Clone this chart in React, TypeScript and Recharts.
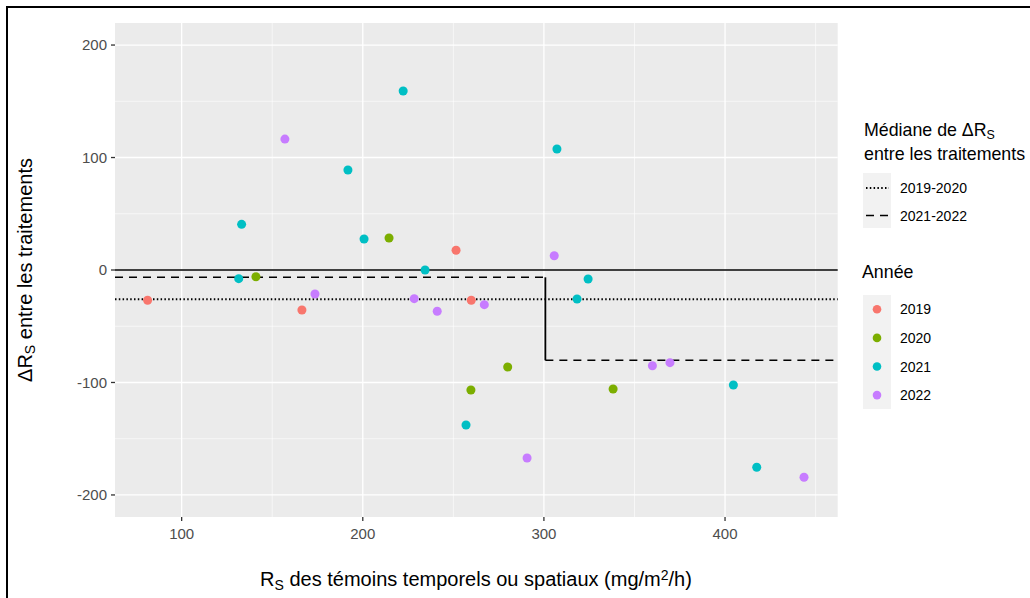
import React from 'react';
import {
    ScatterChart,
    Scatter,
    XAxis,
    YAxis,
    ZAxis,
    CartesianGrid,
    ReferenceLine
} from 'recharts';

// Points per year (x = RS témoins, y = ΔRS)
const x2019 = [81.2, 166.4, 251.5, 259.9];
const y2019 = [-26.9, -35.6, 17.5, -26.9];
const x2020 = [141.0, 214.5, 259.7, 280.0, 338.2];
const y2020 = [-6.0, 28.4, -106.7, -86.2, -105.8];
const x2021 = [133.1, 131.5, 191.8, 200.7, 222.3, 234.4, 257.0, 307.2, 318.3, 324.4, 404.6, 417.5];
const y2021 = [40.6, -7.7, 88.9, 27.6, 159.1, 0, -137.8, 107.6, -25.8, -8.0, -102.2, -175.4];
const x2022 = [157.0, 173.6, 228.4, 241.1, 267.1, 290.7, 305.7, 359.9, 369.6, 443.6];
const y2022 = [116.4, -21.3, -25.5, -36.7, -30.8, -167.1, 12.7, -85.1, -82.4, -184.3];

// medians
const median1920 = -26.0;
const median2122Low = -6.5;
const median2122High = -80.3;
const breakX = 300.8;

const xTicks = [100, 200, 300, 400];
const yTicks = [-200, -100, 0, 100, 200];
const xMinor = [50, 150, 250, 350, 450];
const yMinor = [-150, -50, 50, 150];
const xDomain = [63.2, 462.2];
const yDomain = [-219.6, 219.6];

const years = ['2019', '2020', '2021', '2022'];
const colors = ['#F8766D', '#7CAE00', '#00BFC4', '#C77CFF'];

const toPoints = (xs: number[], ys: number[]) => xs.map((x, i) => ({ x, y: ys[i] }));
const series = [
    toPoints(x2019, y2019),
    toPoints(x2020, y2020),
    toPoints(x2021, y2021),
    toPoints(x2022, y2022),
];

const FONT = '"Liberation Sans", Arial, Helvetica, sans-serif';
const sub = { fontSize: '0.7em', verticalAlign: '-0.25em' };

export default function App() {
    return (
        <div style={{ position: 'absolute', left: 0, top: 0, width: 1030, height: 598, overflow: 'hidden', background: '#fff', fontFamily: FONT }}>
            <div style={{ position: 'absolute', left: 6, top: 6, width: 1200, height: 800, borderTop: '2px solid #000', borderLeft: '2px solid #000' }} />

            <ScatterChart width={1030} height={598} margin={{ top: 23, right: 192.3, bottom: 51, left: 55 }}>
                <CartesianGrid fill="#EBEBEB" stroke="#fff" strokeWidth={0.6}
                    horizontalValues={yMinor} verticalValues={xMinor} />
                <CartesianGrid stroke="#fff" strokeWidth={1.3}
                    horizontalValues={yTicks} verticalValues={xTicks} />
                <XAxis type="number" dataKey="x" domain={xDomain} ticks={xTicks} allowDataOverflow
                    axisLine={false} tickSize={4} tickMargin={7}
                    tickLine={{ stroke: '#333', strokeWidth: 1.3 }}
                    tick={{ fill: '#4D4D4D', fontSize: 15, fontFamily: FONT }} height={30} />
                <YAxis type="number" dataKey="y" domain={yDomain} ticks={yTicks} allowDataOverflow
                    axisLine={false} tickSize={4} tickMargin={4}
                    tickLine={{ stroke: '#333', strokeWidth: 1.3 }}
                    tick={{ fill: '#4D4D4D', fontSize: 15, fontFamily: FONT }} width={60} />
                <ZAxis range={[90, 90]} />
                {series.map((pts, i) => (
                    <Scatter key={years[i]} name={years[i]} data={pts} fill={colors[i]} isAnimationActive={false} />
                ))}
                <ReferenceLine y={0} stroke="#000" strokeWidth={1.6} />
                <ReferenceLine y={median1920} stroke="#000" strokeWidth={1.8} strokeDasharray="1.5 2.3" />
                <ReferenceLine segment={[{ x: xDomain[0], y: median2122Low }, { x: breakX, y: median2122Low }]}
                    stroke="#000" strokeWidth={1.6} strokeDasharray="8 6" />
                <ReferenceLine segment={[{ x: breakX, y: median2122High }, { x: xDomain[1], y: median2122High }]}
                    stroke="#000" strokeWidth={1.6} strokeDasharray="8 6" />
                <ReferenceLine segment={[{ x: breakX, y: median2122Low }, { x: breakX, y: median2122High }]}
                    stroke="#000" strokeWidth={1.8} />
            </ScatterChart>

            {/* axis titles */}
            <div style={{ position: 'absolute', left: 476, top: 580, transform: 'translate(-50%, -50%)', fontSize: 20, whiteSpace: 'nowrap', color: '#000' }}>
                R<span style={sub}>S</span> des témoins temporels ou spatiaux (mg/m<span style={{ fontSize: '0.7em', verticalAlign: '0.45em' }}>2</span>/h)
            </div>
            <div style={{ position: 'absolute', left: 26, top: 270, transform: 'translate(-50%, -50%) rotate(-90deg)', fontSize: 20, whiteSpace: 'nowrap', color: '#000' }}>
                ΔR<span style={sub}>S</span> entre les traitements
            </div>

            {/* legend: medians */}
            <div style={{ position: 'absolute', left: 864, top: 121, fontSize: 17.8, lineHeight: '19px', whiteSpace: 'nowrap' }}>
                <div>Médiane de ΔR<span style={sub}>S</span></div>
                <div>entre les traitements</div>
            </div>
            <div style={{ position: 'absolute', left: 863, top: 173, width: 28, height: 55, background: '#F2F2F2' }}>
                <svg width={28} height={55} style={{ display: 'block' }}>
                    <line x1={3} x2={26} y1={15} y2={15} stroke="#000" strokeWidth={1.8} strokeDasharray="1.5 2.3" />
                    <line x1={3} x2={26} y1={42.5} y2={42.5} stroke="#000" strokeWidth={1.6} strokeDasharray="8 6" />
                </svg>
            </div>
            {['2019-2020', '2021-2022'].map((t, i) => (
                <div key={t} style={{ position: 'absolute', left: 900, top: 188 + i * 27.5, transform: 'translateY(-50%)', fontSize: 14 }}>{t}</div>
            ))}

            {/* legend: years */}
            <div style={{ position: 'absolute', left: 862, top: 272, transform: 'translateY(-50%)', fontSize: 17.8 }}>Année</div>
            <div style={{ position: 'absolute', left: 863, top: 295, width: 28, height: 114, background: '#F2F2F2' }}>
                <svg width={28} height={114} style={{ display: 'block' }}>
                    {colors.map((c, i) => (
                        <circle key={c} cx={14} cy={14.3 + i * 28.6} r={4.3} fill={c} />
                    ))}
                </svg>
            </div>
            {years.map((t, i) => (
                <div key={t} style={{ position: 'absolute', left: 900, top: 309.3 + i * 28.6, transform: 'translateY(-50%)', fontSize: 14 }}>{t}</div>
            ))}
        </div>
    );
}
